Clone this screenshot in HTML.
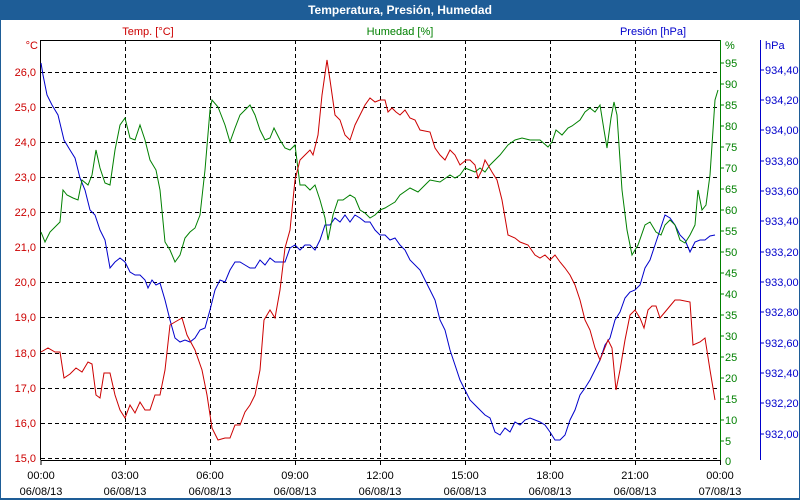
<!DOCTYPE html>
<html><head><meta charset="utf-8"><style>
body{margin:0;background:#fff;width:800px;height:500px;overflow:hidden}
svg{display:block;font-family:"Liberation Sans",sans-serif;font-size:11px}
</style></head><body>
<svg width="800" height="500" viewBox="0 0 800 500">
<rect x="0" y="0" width="800" height="500" fill="#1e5d97"/>
<rect x="1" y="20" width="798" height="478" fill="#fff"/>
<text x="400" y="14" fill="#fff" font-weight="bold" font-size="12" text-anchor="middle">Temperatura, Presión, Humedad</text>
<g stroke="#000" stroke-dasharray="4,3" stroke-width="1">
<line x1="41" x2="720" y1="72.5" y2="72.5"/><line x1="41" x2="720" y1="107.5" y2="107.5"/><line x1="41" x2="720" y1="142.5" y2="142.5"/><line x1="41" x2="720" y1="177.5" y2="177.5"/><line x1="41" x2="720" y1="212.5" y2="212.5"/><line x1="41" x2="720" y1="247.5" y2="247.5"/><line x1="41" x2="720" y1="282.5" y2="282.5"/><line x1="41" x2="720" y1="317.5" y2="317.5"/><line x1="41" x2="720" y1="353.5" y2="353.5"/><line x1="41" x2="720" y1="388.5" y2="388.5"/><line x1="41" x2="720" y1="423.5" y2="423.5"/><line x1="41" x2="720" y1="458.5" y2="458.5"/>
<line x1="125.5" x2="125.5" y1="40" y2="460"/><line x1="210.5" x2="210.5" y1="40" y2="460"/><line x1="295.5" x2="295.5" y1="40" y2="460"/><line x1="380.5" x2="380.5" y1="40" y2="460"/><line x1="465.5" x2="465.5" y1="40" y2="460"/><line x1="550.5" x2="550.5" y1="40" y2="460"/><line x1="635.5" x2="635.5" y1="40" y2="460"/>
</g>
<line x1="41" x2="720" y1="40.5" y2="40.5" stroke="#000"/>
<line x1="40.5" x2="40.5" y1="40" y2="460" stroke="#000"/>
<line x1="41" x2="720" y1="460.5" y2="460.5" stroke="#000"/>
<line x1="720.5" x2="720.5" y1="40" y2="461" stroke="#008000"/>
<line x1="760.5" x2="760.5" y1="40" y2="460" stroke="#0000cc"/>
<g stroke="#000"><line x1="41" x2="41" y1="460" y2="465"/><line x1="125.5" x2="125.5" y1="460" y2="465"/><line x1="210.5" x2="210.5" y1="460" y2="465"/><line x1="295.5" x2="295.5" y1="460" y2="465"/><line x1="380.5" x2="380.5" y1="460" y2="465"/><line x1="465.5" x2="465.5" y1="460" y2="465"/><line x1="550.5" x2="550.5" y1="460" y2="465"/><line x1="635.5" x2="635.5" y1="460" y2="465"/><line x1="720.5" x2="720.5" y1="460" y2="465"/></g>
<g fill="#cc0000" text-anchor="end">
<text x="38" y="49">°C</text>
<text x="36" y="76">26,0</text><text x="36" y="111">25,0</text><text x="36" y="146">24,0</text><text x="36" y="181">23,0</text><text x="36" y="216">22,0</text><text x="36" y="251">21,0</text><text x="36" y="286">20,0</text><text x="36" y="321">19,0</text><text x="36" y="357">18,0</text><text x="36" y="392">17,0</text><text x="36" y="427">16,0</text><text x="36" y="462">15,0</text>
</g>
<text x="148" y="35" fill="#cc0000" text-anchor="middle">Temp. [°C]</text>
<text x="400" y="35" fill="#008000" text-anchor="middle">Humedad [%]</text>
<text x="653" y="35" fill="#0000cc" text-anchor="middle">Presión [hPa]</text>
<g fill="#008000">
<text x="725" y="49">%</text>
<text x="725" y="67">95</text><text x="725" y="88">90</text><text x="725" y="109">85</text><text x="725" y="130">80</text><text x="725" y="151">75</text><text x="725" y="172">70</text><text x="725" y="193">65</text><text x="725" y="214">60</text><text x="725" y="235">55</text><text x="725" y="256">50</text><text x="725" y="277">45</text><text x="725" y="298">40</text><text x="725" y="319">35</text><text x="725" y="340">30</text><text x="725" y="361">25</text><text x="725" y="382">20</text><text x="725" y="403">15</text><text x="725" y="424">10</text><text x="725" y="445">5</text><text x="725" y="465">0</text>
</g>
<g stroke="#008000"><line x1="720" x2="724" y1="63" y2="63"/><line x1="720" x2="724" y1="84" y2="84"/><line x1="720" x2="724" y1="105" y2="105"/><line x1="720" x2="724" y1="126" y2="126"/><line x1="720" x2="724" y1="147" y2="147"/><line x1="720" x2="724" y1="168" y2="168"/><line x1="720" x2="724" y1="189" y2="189"/><line x1="720" x2="724" y1="210" y2="210"/><line x1="720" x2="724" y1="231" y2="231"/><line x1="720" x2="724" y1="252" y2="252"/><line x1="720" x2="724" y1="273" y2="273"/><line x1="720" x2="724" y1="294" y2="294"/><line x1="720" x2="724" y1="315" y2="315"/><line x1="720" x2="724" y1="336" y2="336"/><line x1="720" x2="724" y1="357" y2="357"/><line x1="720" x2="724" y1="378" y2="378"/><line x1="720" x2="724" y1="399" y2="399"/><line x1="720" x2="724" y1="420" y2="420"/><line x1="720" x2="724" y1="441" y2="441"/></g>
<g fill="#0000cc">
<text x="765" y="49">hPa</text>
<text x="765" y="74">934,40</text><text x="765" y="104">934,20</text><text x="765" y="134">934,00</text><text x="765" y="165">933,80</text><text x="765" y="195">933,60</text><text x="765" y="225">933,40</text><text x="765" y="256">933,20</text><text x="765" y="286">933,00</text><text x="765" y="316">932,80</text><text x="765" y="347">932,60</text><text x="765" y="377">932,40</text><text x="765" y="407">932,20</text><text x="765" y="438">932,00</text>
</g>
<g stroke="#0000cc"><line x1="760" x2="764" y1="70" y2="70"/><line x1="760" x2="764" y1="100" y2="100"/><line x1="760" x2="764" y1="130" y2="130"/><line x1="760" x2="764" y1="161" y2="161"/><line x1="760" x2="764" y1="191" y2="191"/><line x1="760" x2="764" y1="221" y2="221"/><line x1="760" x2="764" y1="252" y2="252"/><line x1="760" x2="764" y1="282" y2="282"/><line x1="760" x2="764" y1="312" y2="312"/><line x1="760" x2="764" y1="343" y2="343"/><line x1="760" x2="764" y1="373" y2="373"/><line x1="760" x2="764" y1="403" y2="403"/><line x1="760" x2="764" y1="434" y2="434"/></g>
<g fill="#000" text-anchor="middle">
<text x="41" y="479">00:00</text><text x="41" y="495">06/08/13</text>
<text x="125" y="479">03:00</text><text x="125" y="495">06/08/13</text>
<text x="210" y="479">06:00</text><text x="210" y="495">06/08/13</text>
<text x="295" y="479">09:00</text><text x="295" y="495">06/08/13</text>
<text x="380" y="479">12:00</text><text x="380" y="495">06/08/13</text>
<text x="465" y="479">15:00</text><text x="465" y="495">06/08/13</text>
<text x="550" y="479">18:00</text><text x="550" y="495">06/08/13</text>
<text x="635" y="479">21:00</text><text x="635" y="495">06/08/13</text>
<text x="720" y="479">00:00</text><text x="720" y="495">07/08/13</text>
</g>
<polyline fill="none" stroke="#0000cc" stroke-width="1" points="41,63 43,75 47,95 52,105 58,115 64,140 70,150 75,158 80,178 85,190 90,210 95,215 100,230 105,240 110,268 115,262 120,258 125,262 130,272 135,275 140,275 145,280 148,288 152,280 156,285 160,283 165,300 170,320 175,338 180,342 185,340 190,342 195,338 200,330 205,328 210,310 215,290 220,280 225,282 230,270 235,262 240,262 245,265 250,268 255,268 260,260 265,265 270,258 275,262 280,262 285,262 290,248 295,245 300,250 305,245 310,245 315,250 320,240 325,225 330,225 335,218 340,222 345,215 350,222 355,215 360,218 365,222 370,222 375,230 380,235 385,235 390,240 395,238 400,245 405,250 410,260 420,270 425,280 430,290 435,300 440,320 445,330 450,350 455,365 460,380 465,390 470,400 475,405 480,410 485,415 490,418 495,432 500,435 505,428 510,432 515,422 520,425 525,420 530,418 535,420 540,422 545,425 550,432 555,440 560,440 565,435 570,420 575,410 580,395 585,388 590,380 595,370 600,360 605,345 610,338 615,320 620,312 625,298 630,292 635,290 640,285 645,268 650,260 655,245 660,230 665,215 670,218 675,225 680,235 685,240 690,252 695,242 700,240 705,240 710,236 715,235"/>
<polyline fill="none" stroke="#008000" stroke-width="1" points="41,232 45,242 50,232 55,227 60,222 63,190 67,195 73,198 78,200 82,180 88,185 92,175 96,150 100,168 105,183 110,185 115,150 120,125 125,118 130,138 135,140 140,125 145,140 150,160 156,170 160,190 165,242 170,250 175,262 180,255 185,238 190,232 195,228 200,215 205,170 210,110 212,100 218,107 225,125 230,142 235,128 240,115 245,110 250,105 255,115 260,130 265,140 270,138 274,128 280,140 285,148 290,150 295,145 300,185 305,185 310,190 315,185 320,200 325,218 328,240 333,215 338,200 343,200 350,195 355,198 360,210 365,213 370,218 375,215 380,210 385,208 390,205 395,202 400,195 410,188 418,192 425,185 430,180 440,182 450,175 455,178 460,175 465,168 470,170 475,172 480,168 485,172 490,165 500,155 508,145 515,140 522,138 530,140 540,140 548,147 552,142 556,130 562,135 568,128 572,126 580,120 585,112 590,108 595,112 600,105 604,130 607,148 611,118 614,102 617,115 622,190 627,230 632,255 638,245 645,225 650,222 656,232 661,235 665,225 670,220 675,225 680,240 685,243 690,235 695,225 698,190 702,210 706,205 710,175 715,100 718,90"/>
<polyline fill="none" stroke="#cc0000" stroke-width="1" points="41,352 48,348 55,352 60,352 64,378 70,374 76,368 82,372 88,362 92,364 96,395 100,398 104,373 110,373 115,395 120,410 125,418 130,405 135,413 140,402 145,410 150,410 155,395 160,395 165,370 170,325 175,322 182,318 187,335 195,350 202,370 207,395 212,428 218,440 225,438 230,438 235,425 240,425 245,412 250,405 255,395 260,370 264,320 270,310 275,318 280,290 285,248 290,230 295,180 300,160 305,155 310,150 313,155 318,135 322,95 327,60 330,80 335,115 340,120 345,135 350,140 355,125 360,115 365,105 370,98 375,102 380,100 385,100 388,112 392,108 396,112 400,115 405,110 410,118 415,120 420,130 430,132 435,148 440,155 445,160 450,150 455,155 460,165 466,160 470,160 475,165 478,178 482,170 485,160 488,165 492,172 497,180 502,200 508,235 515,238 520,242 528,245 535,255 540,258 545,255 550,260 555,255 560,262 565,268 570,275 575,285 580,300 585,320 590,330 595,348 600,360 604,350 608,340 612,348 616,390 620,370 625,340 630,315 635,310 640,318 644,328 648,310 652,306 656,306 660,318 665,312 670,306 675,300 680,300 690,302 693,345 700,342 705,338 710,370 715,400"/>
</svg>
</body></html>
